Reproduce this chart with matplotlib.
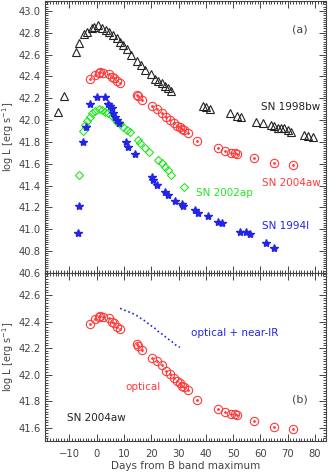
import matplotlib
matplotlib.use("Agg")
import matplotlib.pyplot as plt
from matplotlib.ticker import MultipleLocator

# SN 1998bw
d98 = [-14.3, -12.1, -7.6, -6.6, -4.6, -3.6, -1.75, -0.9, 0.4, 1.9, 3.5, 4.7, 5.9, 7.4,
       8.6, 9.8, 11.0, 12.5, 14.9, 16.1, 17.7, 19.8, 21.4, 22.6, 23.8, 25.0, 26.2, 27.4,
       39.0, 40.2, 41.4, 48.7, 51.4, 52.7, 58.5, 60.9, 63.9, 65.1, 66.4, 67.7, 68.8,
       70.0, 71.2, 76.1, 77.3, 79.1]
l98 = [42.077, 42.221, 42.627, 42.709, 42.789, 42.81, 42.84, 42.85, 42.87, 42.847, 42.826,
       42.805, 42.78, 42.75, 42.72, 42.69, 42.65, 42.60, 42.54, 42.505, 42.46, 42.42,
       42.38, 42.36, 42.34, 42.31, 42.29, 42.27, 42.129, 42.117, 42.099, 42.062, 42.038,
       42.031, 41.98, 41.971, 41.955, 41.946, 41.93, 41.925, 41.925, 41.909, 41.894,
       41.863, 41.854, 41.848]

# SN 2004aw (optical)
d04 = [-2.6, -0.5, 0.7, 1.3, 2.5, 4.7, 5.5, 6.4, 7.6, 8.6, 14.7, 15.3, 16.5, 20.1, 22.0,
       23.8, 25.4, 26.8, 28.3, 29.3, 30.5, 31.1, 31.9, 33.5, 36.8, 44.5, 46.9, 49.3,
       50.5, 51.5, 57.8, 64.9, 71.8]
l04 = [42.379, 42.417, 42.436, 42.442, 42.432, 42.424, 42.399, 42.387, 42.361, 42.342,
       42.228, 42.218, 42.186, 42.127, 42.103, 42.069, 42.03, 42.004, 41.972, 41.95,
       41.935, 41.915, 41.905, 41.885, 41.812, 41.742, 41.721, 41.701, 41.701, 41.693,
       41.65, 41.603, 41.59]

# SN 2004aw optical + near-IR
dnir = [8.6, 10.6, 12.6, 14.4, 16.2, 18.1, 19.5, 21.1, 22.7, 24.4, 25.8, 27.6, 29.0, 30.5]
lnir = [42.50, 42.482, 42.467, 42.449, 42.424, 42.399, 42.374, 42.354, 42.323, 42.299,
        42.274, 42.248, 42.223, 42.206]

# SN 2002ap
d02 = [-6.6, -5.0, -4.2, -3.6, -2.6, -1.75, -0.5, 0.7, 1.9, 3.1, 4.3, 5.5, 6.8, 7.6, 8.6,
       9.8, 11.0, 12.2, 15.3, 15.9, 17.7, 19.3, 22.6, 23.8, 25.0, 26.2, 27.4, 31.9]
l02 = [41.497, 41.903, 41.955, 41.994, 42.031, 42.062, 42.086, 42.099, 42.093, 42.077,
       42.062, 42.038, 42.007, 41.985, 41.964, 41.934, 41.909, 41.894, 41.818, 41.787,
       41.742, 41.71, 41.634, 41.604, 41.573, 41.543, 41.497, 41.39]

# SN 1994I
d94 = [-7.0, -6.4, -5.0, -3.8, -2.4, 0.1, 3.1, 4.3, 4.9, 5.5, 6.1, 6.8, 7.4, 8.3, 10.9,
       11.6, 13.9, 20.1, 20.6, 22.0, 25.0, 26.2, 28.6, 31.1, 31.8, 35.9, 37.2, 40.9,
       44.5, 45.8, 52.4, 54.6, 56.1, 62.1, 65.1]
l94 = [40.968, 41.215, 41.802, 41.94, 42.148, 42.214, 42.214, 42.148, 42.13, 42.108,
       42.062, 42.031, 42.001, 41.976, 41.802, 41.756, 41.685, 41.476, 41.451, 41.405,
       41.344, 41.313, 41.261, 41.228, 41.213, 41.176, 41.146, 41.121, 41.069, 41.052,
       40.97, 40.977, 40.956, 40.871, 40.828]

RED = '#ff3b3b'
GREEN = '#22e622'
BLUE = '#2424e8'
BLACK = '#222222'
AX = '#444444'

plt.rcParams['font.family'] = 'DejaVu Sans'
plt.rcParams['font.size'] = 7.5

fig = plt.figure(figsize=(3.31, 4.72), dpi=100)
ax1 = fig.add_axes([0.136, 0.4216, 0.848, 0.5764])
ax2 = fig.add_axes([0.136, 0.0657, 0.848, 0.3559])


def style(ax):
    ax.set_xlim(-18.9, 83.9)
    ax.xaxis.set_major_locator(MultipleLocator(10))
    ax.xaxis.set_minor_locator(MultipleLocator(1))
    ax.yaxis.set_major_locator(MultipleLocator(0.2))
    ax.yaxis.set_minor_locator(MultipleLocator(0.02))
    ax.tick_params(which='both', direction='in', top=True, right=True,
                   color=AX, labelcolor=AX, width=0.7, labelsize=7.2)
    ax.tick_params(which='major', length=5)
    ax.tick_params(which='minor', length=2.5)
    ax.tick_params(axis='x', pad=6)
    ax.tick_params(axis='y', pad=3)
    for s in ax.spines.values():
        s.set_color(AX)
        s.set_linewidth(0.8)
    ax.set_ylabel('log L [erg s$^{-1}$]', color=AX, fontsize=7, labelpad=2)


def red_circles(ax, x, y):
    ax.plot(x, y, 'o', ms=6, mfc='none', mec=RED, mew=0.8)
    ax.plot(x, y, '.', ms=2, color=RED)


# panel (a)
ax1.plot(d98, l98, '^', ms=6, mfc='none', mec=BLACK, mew=0.8)
red_circles(ax1, d04, l04)
ax1.plot(d02, l02, 'D', ms=4.5, mfc='none', mec=GREEN, mew=0.8)
ax1.plot(d94, l94, '*', ms=6, color=BLUE)
ax1.set_ylim(40.598, 43.092)
style(ax1)
ax1.text(74.3, 42.826, '(a)', color=AX, fontsize=8, ha='center', va='center')
ax1.text(60.3, 42.123, 'SN 1998bw', color=BLACK, va='center')
ax1.text(60.6, 41.426, 'SN 2004aw', color=RED, va='center')
ax1.text(36.3, 41.329, 'SN 2002ap', color=GREEN, va='center')
ax1.text(60.6, 41.03, 'SN 1994I', color=BLUE, va='center')

# panel (b)
red_circles(ax2, d04, l04)
ax2.plot(dnir, lnir, ':', color=BLUE, lw=1.2)
ax2.set_ylim(41.5, 42.766)
style(ax2)
ax2.text(34.4, 42.311, 'optical + near-IR', color=BLUE, va='center')
ax2.text(17.1, 41.904, 'optical', color=RED, ha='center', va='center')
ax2.text(-10.9, 41.671, 'SN 2004aw', color=BLACK, va='center')
ax2.text(74.3, 41.809, '(b)', color=AX, fontsize=8, ha='center', va='center')
ax2.set_xlabel('Days from B band maximum', color=AX, labelpad=1)

fig.savefig('out.png', dpi=100)
